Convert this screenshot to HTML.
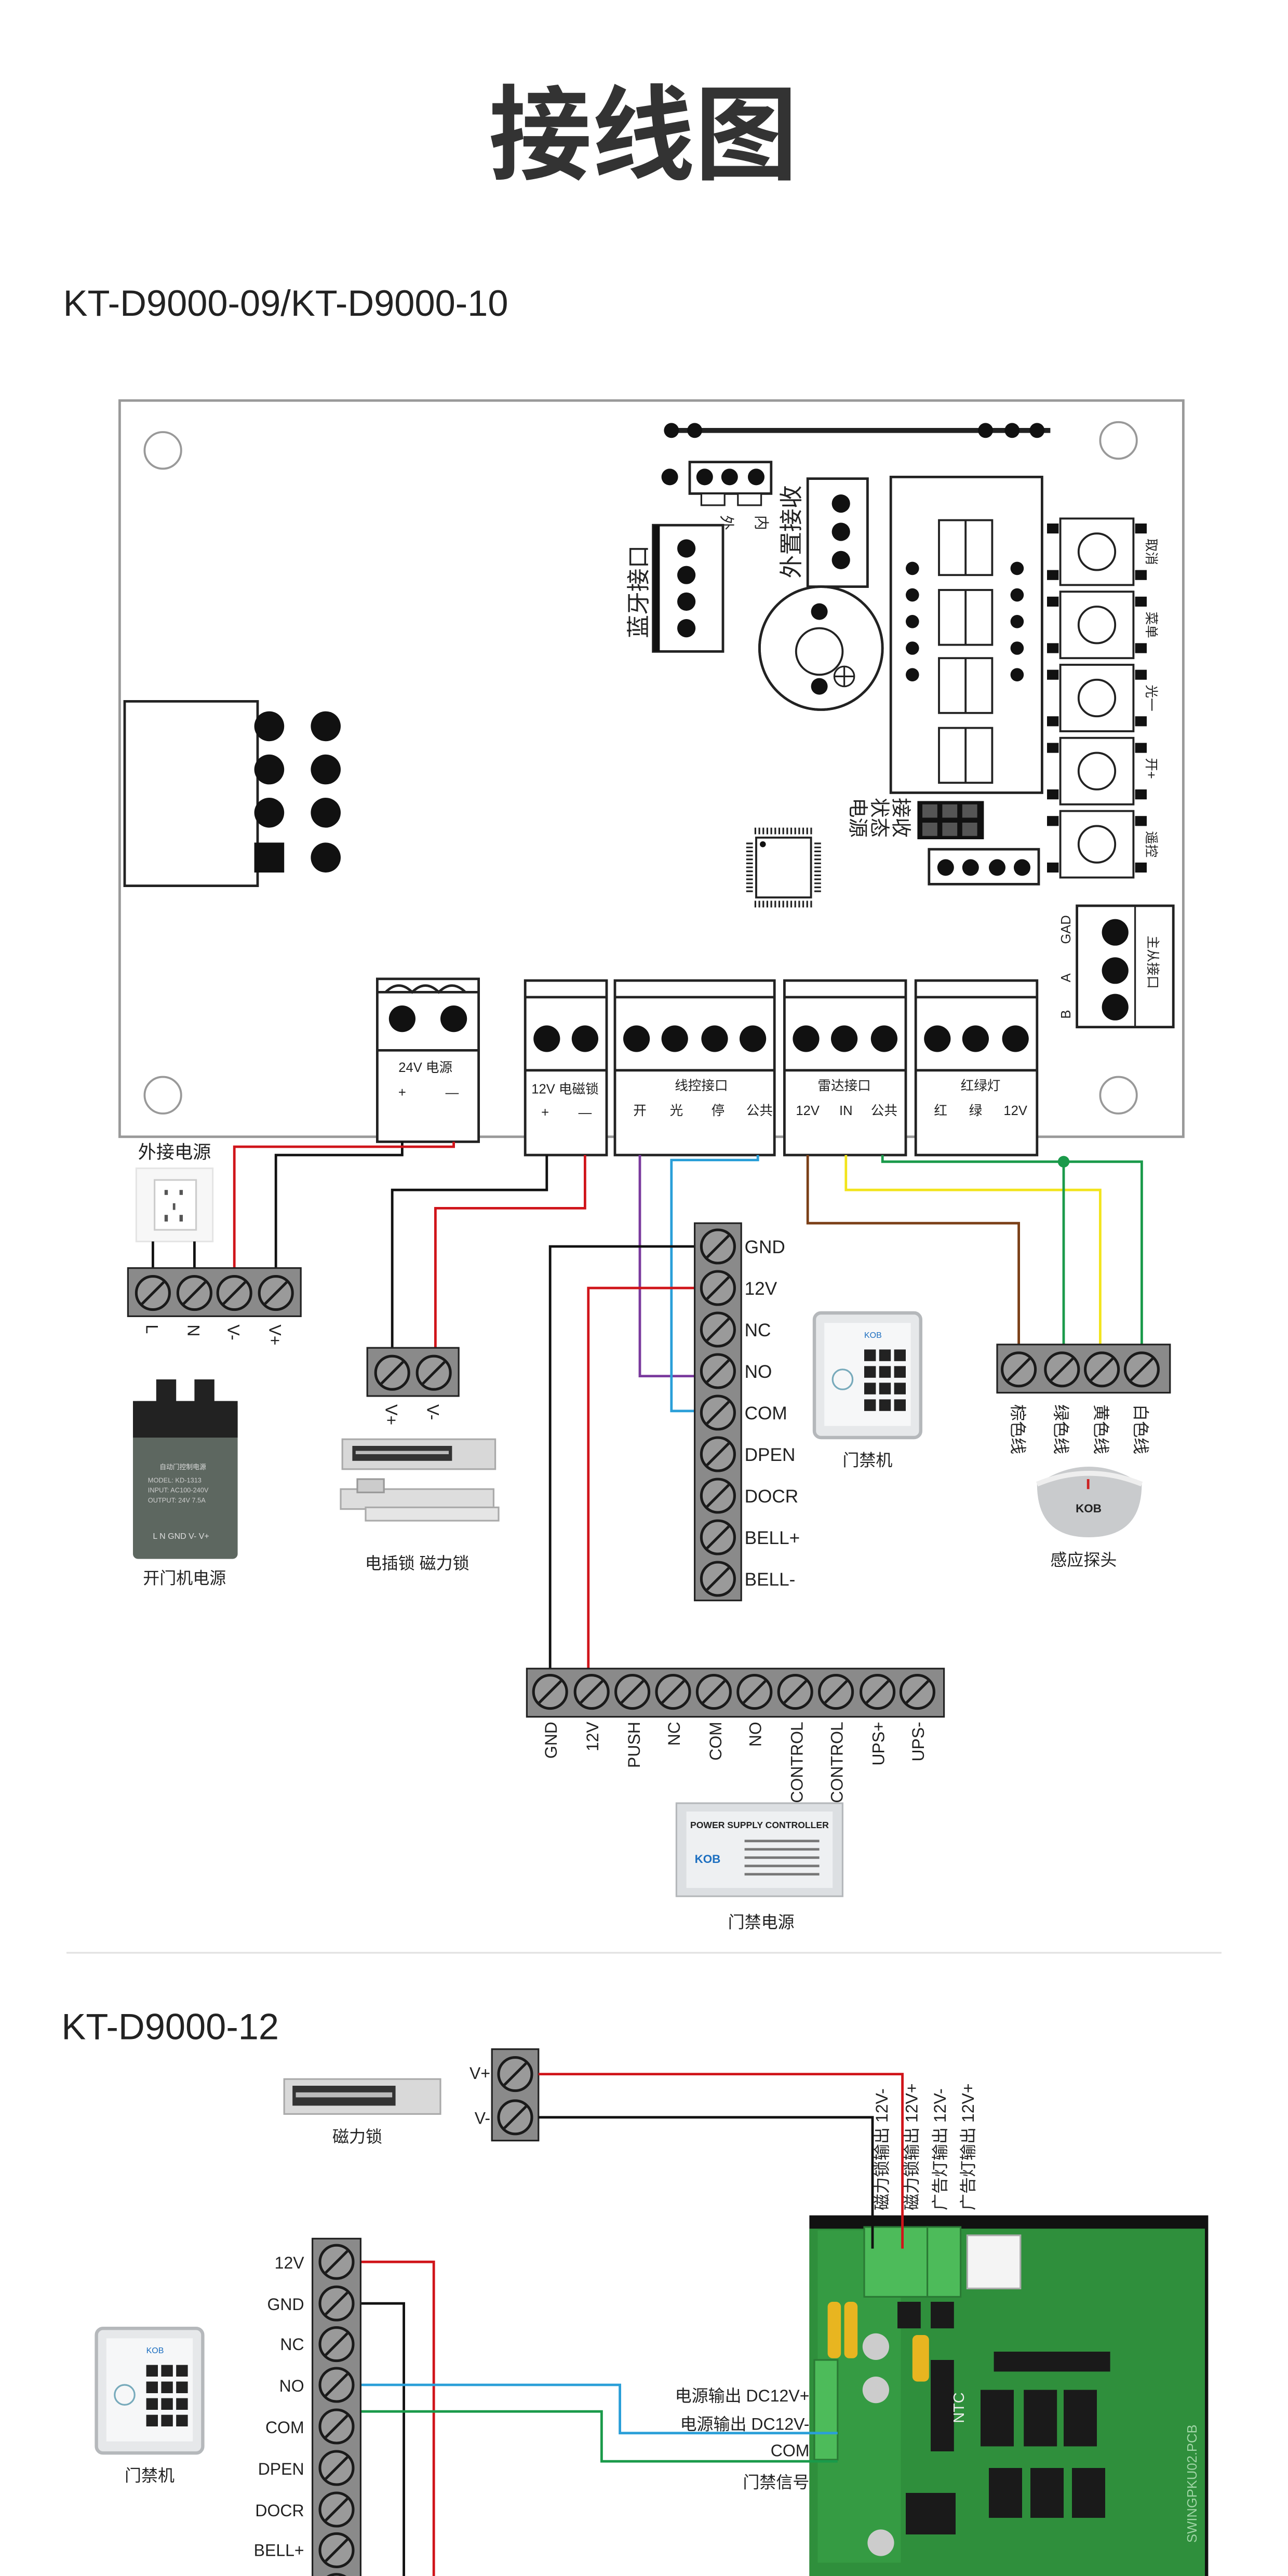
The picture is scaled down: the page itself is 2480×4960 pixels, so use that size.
<!DOCTYPE html>
<html><head><meta charset="utf-8"><style>
html,body{margin:0;padding:0;background:#fff}
svg{display:block}
text{font-family:"Liberation Sans","Noto Sans CJK SC",sans-serif;fill:#222}
</style></head><body>
<svg width="2480" height="4960" viewBox="0 0 775 1550" xmlns="http://www.w3.org/2000/svg">
<defs>
<g id="s"><circle r="10" fill="#9a9a9a" stroke="#1a1a1a" stroke-width="1.6"/><line x1="-6.5" y1="6.5" x2="6.5" y2="-6.5" stroke="#1a1a1a" stroke-width="1.6"/></g>
<g id="btn"><rect x="-22" y="-20" width="44" height="40" fill="#fff" stroke="#222" stroke-width="1.2"/><circle r="11" fill="#fff" stroke="#222" stroke-width="1.2"/><rect x="-30" y="-17" width="7" height="6" fill="#111"/><rect x="-30" y="11" width="7" height="6" fill="#111"/><rect x="23" y="-17" width="7" height="6" fill="#111"/><rect x="23" y="11" width="7" height="6" fill="#111"/></g>
<g id="kp"><rect x="0" y="0" width="64" height="75" rx="4" fill="#e6e8ea" stroke="#b5b8bb" stroke-width="2"/><rect x="6" y="6" width="52" height="62" fill="#f6f7f8"/><text x="30" y="15" font-size="5" fill="#1d6fc0" style="fill:#1d6fc0">KOB</text><g fill="#222"><rect x="30" y="22" width="7" height="7"/><rect x="39" y="22" width="7" height="7"/><rect x="48" y="22" width="7" height="7"/><rect x="30" y="32" width="7" height="7"/><rect x="39" y="32" width="7" height="7"/><rect x="48" y="32" width="7" height="7"/><rect x="30" y="42" width="7" height="7"/><rect x="39" y="42" width="7" height="7"/><rect x="48" y="42" width="7" height="7"/><rect x="30" y="52" width="7" height="7"/><rect x="39" y="52" width="7" height="7"/><rect x="48" y="52" width="7" height="7"/></g><circle cx="17" cy="40" r="6" fill="none" stroke="#7ab" stroke-width="1"/></g>
</defs>

<text x="387" y="103" font-size="62" font-weight="bold" text-anchor="middle" style="fill:#333">接线图</text>
<text x="38" y="190" font-size="22" style="fill:#222">KT-D9000-09/KT-D9000-10</text>

<!-- board -->
<rect x="72" y="241" width="640" height="443" fill="#fff" stroke="#999" stroke-width="1.5"/>
<g fill="#fff" stroke="#999" stroke-width="1.2">
<circle cx="98" cy="271" r="11"/><circle cx="673" cy="265" r="11"/><circle cx="98" cy="659" r="11"/><circle cx="673" cy="659" r="11"/></g>
<line x1="403" y1="259" x2="632" y2="259" stroke="#222" stroke-width="3"/>
<g fill="#111"><circle cx="404" cy="259" r="4.5"/><circle cx="418" cy="259" r="4.5"/><circle cx="593" cy="259" r="4.5"/><circle cx="609" cy="259" r="4.5"/><circle cx="624" cy="259" r="4.5"/>
<circle cx="403" cy="287" r="5"/></g>
<rect x="415" y="278" width="49" height="19" fill="#fff" stroke="#222" stroke-width="1.5"/>
<g fill="#111"><circle cx="424" cy="287" r="5"/><circle cx="439" cy="287" r="5"/><circle cx="455" cy="287" r="5"/></g>
<rect x="422" y="297" width="14" height="7" fill="#fff" stroke="#222"/><rect x="444" y="297" width="14" height="7" fill="#fff" stroke="#222"/>
<text font-size="9" transform="translate(434,310) rotate(90)">外</text>
<text font-size="9" transform="translate(455,310) rotate(90)">内</text>
<rect x="393" y="316" width="42" height="76" fill="#fff" stroke="#222" stroke-width="1.5"/>
<rect x="393" y="316" width="4" height="76" fill="#111"/>
<g fill="#111"><circle cx="413" cy="330" r="5.5"/><circle cx="413" cy="346" r="5.5"/><circle cx="413" cy="362" r="5.5"/><circle cx="413" cy="378" r="5.5"/></g>
<text font-size="14" transform="translate(389,384) rotate(-90)">蓝牙接口</text>
<rect x="486" y="288" width="36" height="65" fill="#fff" stroke="#222" stroke-width="1.5"/>
<g fill="#111"><circle cx="506" cy="303" r="5.5"/><circle cx="506" cy="320" r="5.5"/><circle cx="506" cy="337" r="5.5"/></g>
<text font-size="14" transform="translate(481,348) rotate(-90)">外置接收</text>
<circle cx="494" cy="390" r="37" fill="#fff" stroke="#222" stroke-width="1.5"/>
<circle cx="493" cy="392" r="14" fill="#fff" stroke="#222" stroke-width="1.2"/>
<circle cx="493" cy="368" r="5" fill="#111"/><circle cx="493" cy="413" r="5" fill="#111"/>
<circle cx="508" cy="407" r="6" fill="#fff" stroke="#222"/><line x1="502" y1="407" x2="514" y2="407" stroke="#222"/><line x1="508" y1="401" x2="508" y2="413" stroke="#222"/>
<rect x="536" y="287" width="91" height="190" fill="#fff" stroke="#222" stroke-width="1.5"/>
<g fill="#111"><circle cx="549" cy="342" r="4"/><circle cx="549" cy="358" r="4"/><circle cx="549" cy="374" r="4"/><circle cx="549" cy="390" r="4"/><circle cx="549" cy="406" r="4"/>
<circle cx="612" cy="342" r="4"/><circle cx="612" cy="358" r="4"/><circle cx="612" cy="374" r="4"/><circle cx="612" cy="390" r="4"/><circle cx="612" cy="406" r="4"/></g>
<g fill="none" stroke="#222" stroke-width="1.2">
<rect x="565" y="313" width="32" height="33"/><line x1="581" y1="313" x2="581" y2="346"/>
<rect x="565" y="355" width="32" height="33"/><line x1="581" y1="355" x2="581" y2="388"/>
<rect x="565" y="396" width="32" height="33"/><line x1="581" y1="396" x2="581" y2="429"/>
<rect x="565" y="438" width="32" height="33"/><line x1="581" y1="438" x2="581" y2="471"/></g>
<use href="#btn" x="660" y="332"/><use href="#btn" x="660" y="376"/><use href="#btn" x="660" y="420"/><use href="#btn" x="660" y="464"/><use href="#btn" x="660" y="508"/>
<g font-size="8"><text transform="translate(690,324) rotate(90)">取消</text><text transform="translate(690,368) rotate(90)">菜单</text><text transform="translate(690,412) rotate(90)">光一</text><text transform="translate(690,456) rotate(90)">开+</text><text transform="translate(690,500) rotate(90)">遥控</text></g>
<rect x="455" y="504" width="33" height="36" fill="#fff" stroke="#222" stroke-width="1.2"/>
<g stroke="#222" stroke-width="1"><path d="M454 500h36M454 544h36M451 507v30M492 507v30" stroke-width="4" stroke-dasharray="1 1.4"/></g>
<circle cx="459" cy="508" r="1.8" fill="#111"/>
<text font-size="12" transform="translate(512,480) rotate(90)">电源</text>
<text font-size="12" transform="translate(525,480) rotate(90)">状态</text>
<text font-size="12" transform="translate(538,480) rotate(90)">接收</text>
<g fill="#111"><rect x="552" y="482" width="40" height="23"/></g>
<g fill="#555"><rect x="555" y="484" width="9" height="8"/><rect x="567" y="484" width="9" height="8"/><rect x="579" y="484" width="9" height="8"/><rect x="555" y="495" width="9" height="8"/><rect x="567" y="495" width="9" height="8"/><rect x="579" y="495" width="9" height="8"/></g>
<rect x="559" y="511" width="66" height="21" fill="#fff" stroke="#222" stroke-width="1.5"/>
<g fill="#111"><circle cx="569" cy="522" r="5"/><circle cx="584" cy="522" r="5"/><circle cx="600" cy="522" r="5"/><circle cx="615" cy="522" r="5"/></g>
<rect x="75" y="422" width="80" height="111" fill="#fff" stroke="#222" stroke-width="1.5"/>
<g fill="#111"><circle cx="162" cy="437" r="9"/><circle cx="162" cy="463" r="9"/><circle cx="162" cy="489" r="9"/><rect x="153" y="507" width="18" height="18"/>
<circle cx="196" cy="437" r="9"/><circle cx="196" cy="463" r="9"/><circle cx="196" cy="489" r="9"/><circle cx="196" cy="516" r="9"/></g>
<rect x="648" y="545" width="58" height="73" fill="#fff" stroke="#222" stroke-width="1.5"/>
<line x1="683" y1="545" x2="683" y2="618" stroke="#222"/>
<g fill="#111"><circle cx="671" cy="561" r="8"/><circle cx="671" cy="584" r="8"/><circle cx="671" cy="606" r="8"/></g>
<g font-size="8"><text transform="translate(644,568) rotate(-90)">GAD</text><text transform="translate(644,591) rotate(-90)">A</text><text transform="translate(644,613) rotate(-90)">B</text><text transform="translate(691,563) rotate(90)">主从接口</text></g>
<!-- bottom board terminals -->
<g stroke="#222" stroke-width="1.5" fill="#fff">
<rect x="227" y="589" width="61" height="98"/><line x1="227" y1="632" x2="288" y2="632"/><path d="M227 597h61M232 597q8-8 16 0q8-8 16 0q8-8 16 0" fill="none"/>
<rect x="316" y="590" width="49" height="105"/><line x1="316" y1="600" x2="365" y2="600"/><line x1="316" y1="644" x2="365" y2="644"/>
<rect x="370" y="590" width="96" height="105"/><line x1="370" y1="600" x2="466" y2="600"/><line x1="370" y1="644" x2="466" y2="644"/>
<rect x="472" y="590" width="73" height="105"/><line x1="472" y1="600" x2="545" y2="600"/><line x1="472" y1="644" x2="545" y2="644"/>
<rect x="551" y="590" width="73" height="105"/><line x1="551" y1="600" x2="624" y2="600"/><line x1="551" y1="644" x2="624" y2="644"/></g>
<g fill="#111"><circle cx="242" cy="613" r="8"/><circle cx="273" cy="613" r="8"/>
<circle cx="329" cy="625" r="8"/><circle cx="352" cy="625" r="8"/>
<circle cx="383" cy="625" r="8"/><circle cx="406" cy="625" r="8"/><circle cx="430" cy="625" r="8"/><circle cx="453" cy="625" r="8"/>
<circle cx="485" cy="625" r="8"/><circle cx="508" cy="625" r="8"/><circle cx="532" cy="625" r="8"/>
<circle cx="564" cy="625" r="8"/><circle cx="587" cy="625" r="8"/><circle cx="611" cy="625" r="8"/></g>
<g font-size="8" text-anchor="middle">
<text x="256" y="645">24V 电源</text><text x="242" y="660">+</text><text x="272" y="660">—</text>
<text x="340" y="658">12V 电磁锁</text><text x="328" y="672">+</text><text x="352" y="672">—</text>
<text x="422" y="656">线控接口</text><text x="385" y="671">开</text><text x="407" y="671">光</text><text x="432" y="671">停</text><text x="457" y="671">公共</text>
<text x="508" y="656">雷达接口</text><text x="486" y="671">12V</text><text x="509" y="671">IN</text><text x="532" y="671">公共</text>
<text x="590" y="656">红绿灯</text><text x="566" y="671">红</text><text x="587" y="671">绿</text><text x="611" y="671">12V</text></g>

<text x="105" y="697" font-size="11" text-anchor="middle">外接电源</text>
<!-- socket -->
<rect x="82" y="703" width="46" height="44" fill="#f7f7f7" stroke="#e5e5e5"/>
<rect x="93" y="710" width="25" height="30" fill="#fff" stroke="#ccc"/>
<g fill="#555"><rect x="99" y="716" width="2" height="3"/><rect x="108" y="716" width="2" height="3"/><rect x="104" y="724" width="1.5" height="4"/><rect x="99" y="731" width="2" height="4"/><rect x="108" y="731" width="2" height="4"/></g>

<!-- wires section 1 -->
<g fill="none" stroke-width="1.5">
<path d="M242 687V695H166V775" stroke="#111"/>
<path d="M273 687V690H141V775" stroke="#d0141a"/>
<path d="M92 747V775M117 747V775" stroke="#111"/>
<path d="M329 695V716H236V812" stroke="#111"/>
<path d="M352 695V727H262V812" stroke="#d0141a"/>
<path d="M385 695V828H418" stroke="#7a3a9e"/>
<path d="M456 695V698H404V849H418" stroke="#2a9fd8"/>
<path d="M418 750H331V1004" stroke="#111"/>
<path d="M418 775H354V1004" stroke="#d0141a"/>
<path d="M486 695V736H613V809" stroke="#7b3f17"/>
<path d="M509 695V716H662V809" stroke="#f2e41c"/>
<path d="M531 695V699H687V809M640 699V809" stroke="#1a9a4a"/>
</g>
<circle cx="640" cy="699" r="3.5" fill="#1a9a4a"/>

<!-- 4 terminal L N V- V+ -->
<rect x="77" y="763" width="104" height="29" fill="#8a8a8a" stroke="#222"/>
<use href="#s" x="92" y="778"/><use href="#s" x="117" y="778"/><use href="#s" x="141" y="778"/><use href="#s" x="166" y="778"/>
<g font-size="10"><text transform="translate(88,797) rotate(90)">L</text><text transform="translate(113,797) rotate(90)">N</text><text transform="translate(137,797) rotate(90)">V-</text><text transform="translate(162,797) rotate(90)">V+</text></g>
<!-- power supply -->
<rect x="80" y="843" width="63" height="95" rx="3" fill="#5d6760"/>
<rect x="80" y="843" width="63" height="22" fill="#222"/>
<rect x="94" y="830" width="12" height="14" fill="#222"/><rect x="117" y="830" width="12" height="14" fill="#222"/>
<g font-size="4" style="fill:#ddd"><text x="96" y="884" style="fill:#ddd">自动门控制电源</text><text x="89" y="892" style="fill:#ccc">MODEL: KD-1313</text><text x="89" y="898" style="fill:#ccc">INPUT: AC100-240V</text><text x="89" y="904" style="fill:#ccc">OUTPUT: 24V 7.5A</text><text x="92" y="926" font-size="5" style="fill:#ddd">L N GND V- V+</text></g>
<text x="111" y="953" font-size="10" text-anchor="middle">开门机电源</text>

<!-- lock terminal -->
<rect x="221" y="811" width="55" height="29" fill="#8a8a8a" stroke="#222"/>
<use href="#s" x="236" y="826"/><use href="#s" x="261" y="826"/>
<g font-size="10"><text transform="translate(232,845) rotate(90)">V+</text><text transform="translate(257,845) rotate(90)">V-</text></g>
<rect x="206" y="866" width="92" height="18" fill="#d8d8d8" stroke="#aaa"/><rect x="212" y="870" width="60" height="9" fill="#333"/><rect x="214" y="873" width="56" height="2" fill="#bbb"/>
<rect x="205" y="896" width="92" height="12" fill="#ddd" stroke="#aaa"/><rect x="215" y="890" width="16" height="8" fill="#ccc" stroke="#999"/><rect x="220" y="907" width="80" height="8" fill="#e5e5e5" stroke="#aaa"/>
<text x="251" y="944" font-size="10" text-anchor="middle">电插锁 磁力锁</text>

<!-- column terminal -->
<rect x="418" y="736" width="28" height="227" fill="#8a8a8a" stroke="#222"/>
<use href="#s" x="432" y="750"/><use href="#s" x="432" y="775"/><use href="#s" x="432" y="800"/><use href="#s" x="432" y="825"/><use href="#s" x="432" y="850"/><use href="#s" x="432" y="875"/><use href="#s" x="432" y="900"/><use href="#s" x="432" y="925"/><use href="#s" x="432" y="950"/>
<g font-size="11"><text x="448" y="754">GND</text><text x="448" y="779">12V</text><text x="448" y="804">NC</text><text x="448" y="829">NO</text><text x="448" y="854">COM</text><text x="448" y="879">DPEN</text><text x="448" y="904">DOCR</text><text x="448" y="929">BELL+</text><text x="448" y="954">BELL-</text></g>
<use href="#kp" x="490" y="790"/>
<text x="522" y="882" font-size="10" text-anchor="middle">门禁机</text>

<!-- radar terminal -->
<rect x="600" y="809" width="104" height="29" fill="#8a8a8a" stroke="#222"/>
<use href="#s" x="613" y="824"/><use href="#s" x="639" y="824"/><use href="#s" x="663" y="824"/><use href="#s" x="687" y="824"/>
<g font-size="10"><text transform="translate(609,845) rotate(90)">棕色线</text><text transform="translate(635,845) rotate(90)">绿色线</text><text transform="translate(659,845) rotate(90)">黄色线</text><text transform="translate(683,845) rotate(90)">白色线</text></g>
<path d="M624 893Q655 872 687 893Q687 925 655 925Q624 925 624 893Z" fill="#c9cbcd"/>
<path d="M624 893Q655 880 687 893" fill="none" stroke="#eee" stroke-width="3"/>
<rect x="654" y="890" width="1.5" height="6" fill="#c22"/>
<text x="655" y="910" font-size="7" font-weight="bold" text-anchor="middle">KOB</text>
<text x="652" y="942" font-size="10" text-anchor="middle">感应探头</text>

<!-- bottom terminal -->
<rect x="317" y="1004" width="251" height="29" fill="#8a8a8a" stroke="#222"/>
<use href="#s" x="331" y="1018"/><use href="#s" x="356" y="1018"/><use href="#s" x="380.5" y="1018"/><use href="#s" x="405" y="1018"/><use href="#s" x="429.5" y="1018"/><use href="#s" x="454" y="1018"/><use href="#s" x="478.5" y="1018"/><use href="#s" x="503" y="1018"/><use href="#s" x="528" y="1018"/><use href="#s" x="552" y="1018"/>
<g font-size="10" text-anchor="end"><text transform="translate(335,1036) rotate(-90)">GND</text><text transform="translate(360,1036) rotate(-90)">12V</text><text transform="translate(385,1036) rotate(-90)">PUSH</text><text transform="translate(409,1036) rotate(-90)">NC</text><text transform="translate(434,1036) rotate(-90)">COM</text><text transform="translate(458,1036) rotate(-90)">NO</text><text transform="translate(483,1036) rotate(-90)">CONTROL</text><text transform="translate(507,1036) rotate(-90)">CONTROL</text><text transform="translate(532,1036) rotate(-90)">UPS+</text><text transform="translate(556,1036) rotate(-90)">UPS-</text></g>
<rect x="407" y="1085" width="100" height="56" fill="#dcdfe2" stroke="#b5b8bb"/>
<rect x="413" y="1090" width="88" height="46" fill="#eef0f2"/>
<text x="457" y="1100" font-size="5.5" font-weight="bold" text-anchor="middle">POWER SUPPLY CONTROLLER</text>
<text x="418" y="1121" font-size="7" font-weight="bold" style="fill:#1d6fc0">KOB</text>
<g fill="#777"><rect x="448" y="1107" width="45" height="1.5"/><rect x="448" y="1112" width="45" height="1.5"/><rect x="448" y="1117" width="45" height="1.5"/><rect x="448" y="1122" width="45" height="1.5"/><rect x="448" y="1127" width="45" height="1.5"/></g>
<text x="458" y="1160" font-size="10" text-anchor="middle">门禁电源</text>

<line x1="40" y1="1175" x2="735" y2="1175" stroke="#e2e2e2" stroke-width="1"/>

<!-- section 2 -->
<text x="37" y="1227" font-size="22">KT-D9000-12</text>
<rect x="171" y="1251" width="94" height="21" fill="#d9d9d9" stroke="#aaa"/><rect x="176" y="1255" width="62" height="12" fill="#333"/><rect x="178" y="1259" width="58" height="3" fill="#bbb"/>
<text x="215" y="1289" font-size="10" text-anchor="middle">磁力锁</text>
<rect x="296" y="1233" width="28" height="55" fill="#8a8a8a" stroke="#222"/>
<use href="#s" x="310" y="1248"/><use href="#s" x="310" y="1274"/>
<g font-size="10" text-anchor="end"><text x="295" y="1251">V+</text><text x="295" y="1278">V-</text></g>

<!-- PCB -->
<rect x="487" y="1333" width="240" height="217" fill="#111"/>
<rect x="487" y="1341" width="238" height="209" fill="#2f8f3c"/>
<rect x="492" y="1342" width="50" height="200" fill="#3aa348" opacity=".6"/>
<rect x="520" y="1340" width="38" height="42" fill="#4dbb5a" stroke="#2a7a34"/>
<rect x="558" y="1340" width="20" height="42" fill="#4dbb5a" stroke="#2a7a34"/>
<rect x="582" y="1345" width="32" height="32" fill="#f4f4f4" stroke="#aaa"/>
<rect x="490" y="1420" width="14" height="60" fill="#4dbb5a" stroke="#2a7a34"/>
<g fill="#1a1a1a"><rect x="540" y="1385" width="14" height="16"/><rect x="560" y="1385" width="14" height="16"/><rect x="560" y="1420" width="14" height="55"/><rect x="598" y="1415" width="70" height="12"/><rect x="590" y="1438" width="20" height="34"/><rect x="616" y="1438" width="20" height="34"/><rect x="640" y="1438" width="20" height="34"/><rect x="595" y="1485" width="20" height="30"/><rect x="620" y="1485" width="20" height="30"/><rect x="645" y="1485" width="20" height="30"/><rect x="545" y="1500" width="30" height="25"/></g>
<g fill="#e8b520"><rect x="498" y="1385" width="8" height="34" rx="3"/><rect x="508" y="1385" width="8" height="34" rx="3"/><rect x="549" y="1405" width="10" height="28" rx="3"/></g>
<g fill="#ccc"><circle cx="527" cy="1412" r="8"/><circle cx="527" cy="1438" r="8"/><circle cx="530" cy="1530" r="8"/></g>
<text font-size="9" transform="translate(580,1458) rotate(-90)" style="fill:#eee">NTC</text>
<text font-size="8" transform="translate(720,1530) rotate(-90)" style="fill:#9fd4a5">SWINGPKU02.PCB</text>

<g fill="none" stroke-width="1.5">
<path d="M324 1248H543V1353" stroke="#d0141a"/>
<path d="M324 1274H525V1353" stroke="#111"/>
<path d="M217 1361H261V1550" stroke="#d0141a"/>
<path d="M217 1386H243V1550" stroke="#111"/>
<path d="M217 1435H373V1464H504" stroke="#2a9fd8"/>
<path d="M217 1451H362V1481H504" stroke="#1a9a4a"/>
</g>
<g font-size="10"><text transform="translate(534,1330) rotate(-90)">磁力锁输出 12V-</text><text transform="translate(552,1330) rotate(-90)">磁力锁输出 12V+</text><text transform="translate(569,1330) rotate(-90)">广告灯输出 12V-</text><text transform="translate(586,1330) rotate(-90)">广告灯输出 12V+</text></g>
<g font-size="10" text-anchor="end"><text x="487" y="1445">电源输出 DC12V+</text><text x="487" y="1462">电源输出 DC12V-</text><text x="487" y="1478">COM</text><text x="487" y="1497">门禁信号</text></g>

<rect x="188" y="1347" width="29" height="210" fill="#8a8a8a" stroke="#222"/>
<use href="#s" x="202.5" y="1361"/><use href="#s" x="202.5" y="1386"/><use href="#s" x="202.5" y="1410.5"/><use href="#s" x="202.5" y="1435"/><use href="#s" x="202.5" y="1460"/><use href="#s" x="202.5" y="1485"/><use href="#s" x="202.5" y="1510"/><use href="#s" x="202.5" y="1534.5"/><use href="#s" x="202.5" y="1559"/>
<g font-size="10" text-anchor="end"><text x="183" y="1365">12V</text><text x="183" y="1390">GND</text><text x="183" y="1414">NC</text><text x="183" y="1439">NO</text><text x="183" y="1464">COM</text><text x="183" y="1489">DPEN</text><text x="183" y="1514">DOCR</text><text x="183" y="1538">BELL+</text></g>
<use href="#kp" x="58" y="1401"/>
<text x="90" y="1493" font-size="10" text-anchor="middle">门禁机</text>
<circle cx="494" cy="390" r="37" fill="none" stroke="#222" stroke-width="1.5"/>
</svg>
</body></html>
